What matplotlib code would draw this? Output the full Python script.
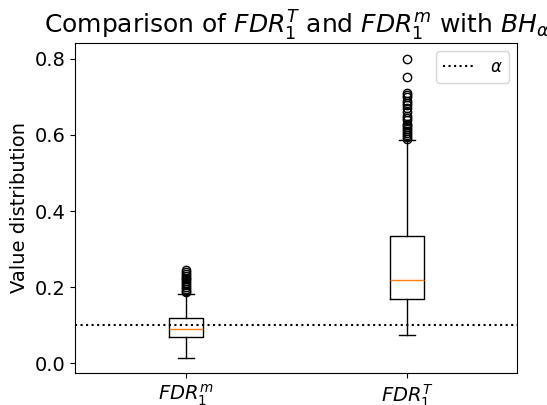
import matplotlib
matplotlib.use("Agg")
import matplotlib.pyplot as plt

labels = [r"$FDR_1^m$", r"$FDR_1^T$"]
medians = [0.091, 0.219]
q1s = [0.068, 0.168]
q3s = [0.118, 0.334]
whis_lo = [0.013, 0.074]
whis_hi = [0.181, 0.587]
fliers_m = [0.186, 0.19, 0.195, 0.20, 0.205, 0.21, 0.215, 0.22, 0.225,
            0.23, 0.235, 0.24, 0.245]
fliers_T = [0.59, 0.595, 0.60, 0.605, 0.61, 0.615, 0.62, 0.625, 0.63,
            0.64, 0.645, 0.65, 0.66, 0.67, 0.68, 0.685, 0.69, 0.70,
            0.705, 0.71, 0.753, 0.80]
alpha_level = 0.1

stats = []
for i, fl in enumerate([fliers_m, fliers_T]):
    stats.append(dict(label=labels[i], med=medians[i], q1=q1s[i], q3=q3s[i],
                      whislo=whis_lo[i], whishi=whis_hi[i], fliers=fl))

fig = plt.figure(figsize=(5.47, 4.05), dpi=100)
ax = fig.add_axes([0.138, 0.079, 0.808, 0.815])
ax.bxp(stats, positions=[1, 2], widths=0.15)
ax.axhline(alpha_level, color="black", linestyle=":", label=r"$\alpha$")
ax.set_xlim(0.5, 2.5)
ax.set_ylim(-0.026, 0.842)
ax.set_yticks([0.0, 0.2, 0.4, 0.6, 0.8])
ax.tick_params(labelsize=14)
ax.set_ylabel("Value distribution", fontsize=14)
ax.set_title(r"Comparison of $FDR_1^T$ and $FDR_1^m$ with $BH_\alpha$", fontsize=18)
ax.legend(loc="upper right", fontsize=12)
fig.savefig("out.png", dpi=100)
